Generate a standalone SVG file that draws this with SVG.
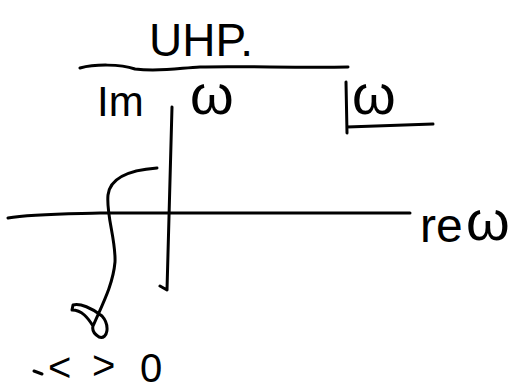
<svg xmlns="http://www.w3.org/2000/svg" width="517" height="391" viewBox="0 0 517 391">
<style>
.t{font-family:"Liberation Sans",Arial,sans-serif;fill:#000}
.s{fill:none;stroke:#000;stroke-width:3;stroke-linecap:round;stroke-linejoin:round}
</style>
<rect width="517" height="391" fill="#fff"/>
<g id="title"><text class="t" x="149" y="56" font-size="46">UHP.</text></g>
<g id="im-label"><text class="t" x="97" y="116" font-size="42">Im</text><text class="t" x="190" y="114" font-size="56">ω</text></g>
<g id="omega-box"><text class="t" x="352" y="114" font-size="56">ω</text>
<path class="s" d="M346,82 L347,133 M347,127 L433,124"/></g>
<g id="re-label"><text class="t" x="420" y="242" font-size="48">re</text><text class="t" x="466" y="240" font-size="56">ω</text></g>
<g id="bottom-label"><path class="s" d="M34,371 L42,374"/><text class="t" x="48" y="381" font-size="40">&lt;</text><text class="t" x="92" y="379" font-size="40">&gt;</text><text class="t" x="140" y="382" font-size="40">0</text></g>
<g id="connectors">
<path class="s" d="M80,68 C95,64 120,64 135,69 C160,72 180,68 200,67 C240,66 300,68 348,67"/>
<path class="s" d="M172,107 L167,290 M160,286 L167,290"/>
<path class="s" d="M8,218 C30,214 60,214 100,213 L410,213"/>
<path class="s" d="M157,168 C130,170 110,178 108,195 C106,215 116,240 115,262 C113,285 102,305 93,326 C88,318 82,310 72,310 L73,305 C80,303 92,308 102,316 C110,325 108,340 99,337 C94,334 92,330 93,326"/>
</g>
</svg>
